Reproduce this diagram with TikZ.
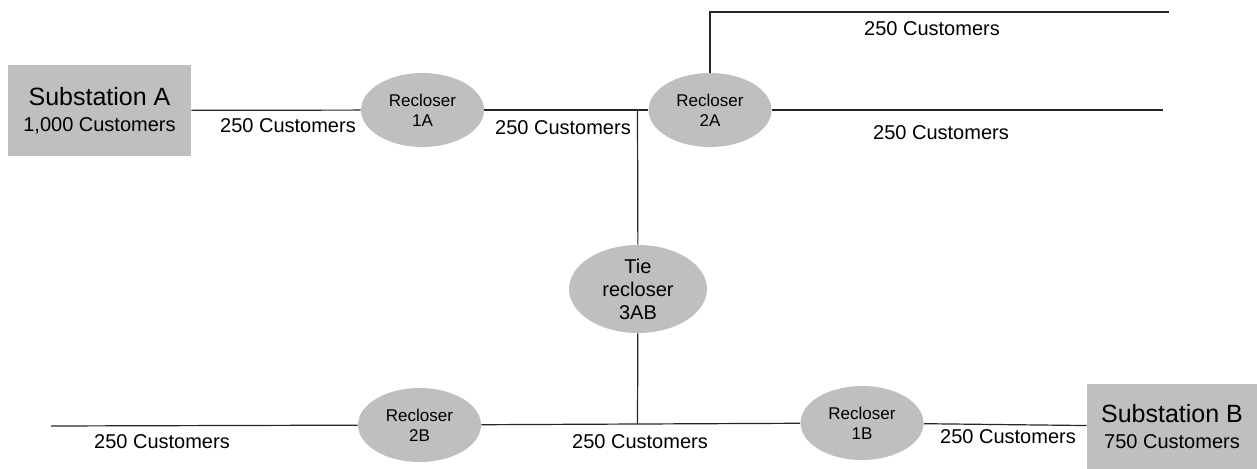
\documentclass[tikz,border=0pt]{standalone}
\usepackage{fontspec}
\setmainfont{Liberation Sans}
\usetikzlibrary{positioning, shapes.geometric}

\tikzset{
    substation/.style={rectangle, fill=black!25, inner sep=0pt, align=center,
        font=\fontsize{12.5}{14}\selectfont},
    recloser/.style={ellipse, fill=black!25, inner sep=0pt, align=center,
        minimum width=61.5pt, minimum height=37pt,
        font=\fontsize{8.5}{10}\selectfont},
    tie recloser/.style={recloser, minimum width=69pt, minimum height=44pt,
        font=\fontsize{10}{11.5}\selectfont},
    load/.style={inner sep=0pt, font=\fontsize{10}{12}\selectfont},
    feeder/.style={line width=0.6pt, black!85}
}

\begin{document}
\begin{tikzpicture}[x=0.5pt, y=-0.5pt]
    \useasboundingbox (0,0) rectangle (1257,469);

    \node[substation, minimum width=91.5pt, minimum height=45.5pt] (suba) at (99.5,110.5)
        {Substation A\\[-1pt]{\fontsize{10}{12}\selectfont 1,000 Customers}};
    \node[recloser] (r1a) at (422.5,110) {Recloser\\1A};
    \node[recloser] (r2a) at (710,110) {Recloser\\2A};
    \node[tie recloser] (tie) at (638,289) {Tie\\recloser\\3AB};
    \node[recloser] (r2b) at (419.5,425) {Recloser\\2B};
    \node[recloser] (r1b) at (862,423) {Recloser\\1B};
    \node[substation, minimum width=85pt, minimum height=42.5pt] (subb) at (1172,426.5)
        {Substation B\\[-1pt]{\fontsize{10}{12}\selectfont 750 Customers}};

    \coordinate (ja) at (637.5,110);
    \coordinate (jb) at (637.5,424);
    \coordinate (topend) at (1169,12);
    \coordinate (midend) at (1163,110);
    \coordinate (leftend) at (51,426);

    \draw[feeder] (suba) -- (r1a);
    \draw[feeder] (r1a) -- (r2a);
    \draw[feeder] (r2a) -- (midend);
    \draw[feeder] (r2a) |- (topend);
    \draw[feeder] (ja) -- (tie);
    \draw[feeder] (tie) -- (jb);
    \draw[feeder] (leftend) -- (r2b);
    \draw[feeder] (r2b) -- (r1b);
    \draw[feeder] (r1b) -- (subb);

    % customer counts along the feeders
    \node[load] (la1) at (288,126) {250 Customers};
    \node[load] (la2) at (563,128) {250 Customers};
    \node[load] (la3) at (932,29) {250 Customers};
    \node[load] (la4) at (941,133) {250 Customers};
    \node[load] (lb1) at (162,442) {250 Customers};
    \node[load] (lb2) at (640,442) {250 Customers};
    \node[load] (lb3) at (1008,437) {250 Customers};
\end{tikzpicture}
\end{document}
